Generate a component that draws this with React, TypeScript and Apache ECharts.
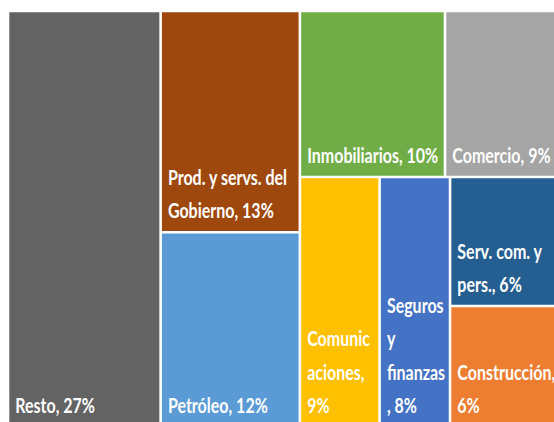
import React, { useEffect, useRef } from "react";
import * as echarts from "echarts";

// Sectors (share of total, %)
const sectors = [
  "Resto",
  "Prod. y servs. del Gobierno",
  "Petróleo",
  "Inmobiliarios",
  "Comercio",
  "Comunicaciones",
  "Seguros y finanzas",
  "Serv. com. y pers.",
  "Construcción",
];
const shares = [27.4, 13.3, 11.7, 10.4, 8.6, 8.6, 7.6, 6.4, 6.0];
// Label text as wrapped in the reference cells
const wrappedNames = [
  "Resto",
  "Prod. y servs. del\nGobierno",
  "Petróleo",
  "Inmobiliarios",
  "Comercio",
  "Comunic\naciones",
  "Seguros\ny\nfinanzas",
  "Serv. com. y\npers.",
  "Construcción",
];
const separators = [", ", ", ", ", ", ", ", ", ", ",\n", "\n, ", ", ", ",\n"];
const colors = [
  "#636363",
  "#9E480E",
  "#5B9BD5",
  "#70AD47",
  "#A5A5A5",
  "#FFC000",
  "#4472C4",
  "#255E91",
  "#ED7D31",
];
// Grouping of the tiles (indices into sectors), sliced alternately across / down
const groupTree: any[] = [0, [1, 2], [[3, 4], [5, 6, [7, 8]]]];

function total(n: any): number {
  return typeof n === "number" ? shares[n] : n.reduce((s: number, c: any) => s + total(c), 0);
}

function sliceDice(n: any, x0: number, x1: number, y0: number, y1: number, depth: number, out: number[][]) {
  if (typeof n === "number") {
    out[n] = [x0, x1, y0, y1];
    return;
  }
  const t = total(n);
  let pos = depth % 2 === 0 ? x0 : y0;
  n.forEach((c: any) => {
    const f = total(c) / t;
    if (depth % 2 === 0) {
      const nx = pos + f * (x1 - x0);
      sliceDice(c, pos, nx, y0, y1, depth + 1, out);
      pos = nx;
    } else {
      const ny = pos + f * (y1 - y0);
      sliceDice(c, x0, x1, pos, ny, depth + 1, out);
      pos = ny;
    }
  });
}

export default function App() {
  const ref = useRef<HTMLDivElement>(null);
  useEffect(() => {
    document.body.style.margin = "0";
    document.body.style.overflow = "hidden";
    const chart = echarts.init(ref.current!, null, { renderer: "svg" });
    const cells: number[][] = [];
    sliceDice(groupTree, 0, 100, 0, 100, 0, cells);
    const data = cells.map((c, i) => ({
      name: sectors[i],
      value: [c[0], c[1], c[2], c[3], shares[i]],
    }));
    const gap = 1.3;
    chart.setOption({
      animation: false,
      grid: { left: 8, top: 11, width: 557, height: 416, outerBoundsMode: "none", containLabel: false },
      xAxis: { type: "value", min: 0, max: 100, show: false },
      yAxis: { type: "value", min: 0, max: 100, inverse: true, show: false },
      series: [
        {
          type: "custom",
          coordinateSystem: "cartesian2d",
          data,
          renderItem: (params: any, api: any) => {
            const i = params.dataIndex;
            const p0 = api.coord([api.value(0), api.value(2)]);
            const p1 = api.coord([api.value(1), api.value(3)]);
            const x = p0[0] + gap;
            const y = p0[1] + gap;
            const w = p1[0] - p0[0] - 2 * gap;
            const h = p1[1] - p0[1] - 2 * gap;
            const label = wrappedNames[i] + separators[i] + Math.round(api.value(4)) + "%";
            return {
              type: "group",
              children: [
                { type: "rect", shape: { x, y, width: w, height: h }, style: { fill: colors[i] } },
                {
                  type: "text",
                  x: x + 6,
                  y: y + h - 4,
                  scaleY: 1.3,
                  style: {
                    text: label,
                    fill: "#ffffff",
                    fontFamily: "Lato",
                    fontWeight: "bold",
                    fontSize: 16,
                    lineHeight: 25.6,
                    align: "left",
                    verticalAlign: "bottom",
                  },
                },
              ],
            };
          },
        },
      ],
    });
    return () => chart.dispose();
  }, []);
  return <div ref={ref} style={{ width: 554, height: 422 }} />;
}
